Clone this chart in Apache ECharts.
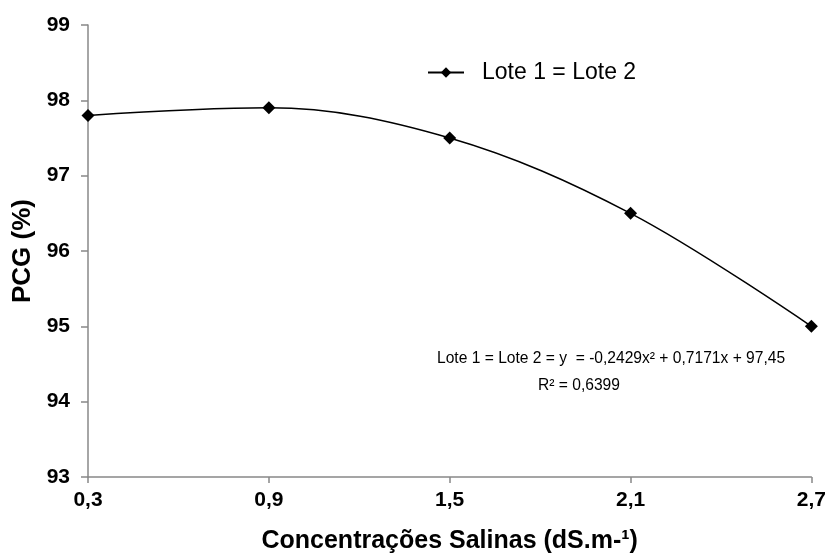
<!DOCTYPE html>
<html>
<head>
<meta charset="utf-8">
<script src="https://cdn.jsdelivr.net/npm/echarts@6/dist/echarts.min.js"></script>
<style>html,body{margin:0;padding:0;background:#fff}#c{width:829px;height:559px}</style>
</head>
<body>
<div id="c"></div>
<script>
const categories = ['0,3', '0,9', '1,5', '2,1', '2,7'];
const pcgValues = [97.8, 97.9, 97.5, 96.5, 95.0];
const yTicks = { min: 93, max: 99, interval: 1 };
const seriesName = 'Lote 1 = Lote 2';
const equationLines = ['Lote 1 = Lote 2 = y  = -0,2429x² + 0,7171x + 97,45', 'R² = 0,6399'];

const FONT = '"Liberation Sans Narrow", "Liberation Sans", Arial, sans-serif';
const chart = echarts.init(document.getElementById('c'), null, { renderer: 'canvas' });
chart.setOption({
  animation: false,
  backgroundColor: '#fff',
  grid: { left: 88, right: 13, top: 25, bottom: 82 },
  legend: {
    data: [seriesName],
    left: 422, top: 56,
    itemWidth: 36, itemHeight: 13, itemGap: 10,
    textStyle: { fontFamily: FONT, fontSize: 23, color: '#000', padding: [0, 0, 0, 13] }
  },
  xAxis: {
    type: 'category',
    data: categories,
    boundaryGap: false,
    name: 'Concentrações Salinas (dS.m-¹)',
    nameLocation: 'middle',
    nameGap: 52,
    nameTextStyle: { fontFamily: FONT, fontSize: 25, fontWeight: 'bold', color: '#000' },
    axisLine: { lineStyle: { color: '#888', width: 1.5 } },
    axisTick: { length: 6, lineStyle: { color: '#888', width: 1.5 } },
    axisLabel: { fontFamily: FONT, fontSize: 21, fontWeight: 'bold', color: '#000', margin: 13 },
    splitLine: { show: false }
  },
  yAxis: {
    type: 'value',
    min: yTicks.min, max: yTicks.max, interval: yTicks.interval,
    name: 'PCG (%)',
    nameLocation: 'middle',
    nameGap: 49,
    nameRotate: 90,
    nameTextStyle: { fontFamily: FONT, fontSize: 26, fontWeight: 'bold', color: '#000' },
    axisLine: { show: true, lineStyle: { color: '#888', width: 1.5 } },
    axisTick: { show: true, length: 7, lineStyle: { color: '#888', width: 1.5 } },
    axisLabel: { fontFamily: FONT, fontSize: 21, fontWeight: 'bold', color: '#000', margin: 18 },
    splitLine: { show: false }
  },
  series: [{
    name: seriesName,
    type: 'line',
    data: pcgValues,
    smooth: 0.35,
    symbol: 'diamond',
    symbolSize: 13,
    itemStyle: { color: '#000' },
    lineStyle: { color: '#000', width: 1.5 }
  }],
  graphic: [
    { type: 'text', left: 437, top: 351, style: { text: equationLines[0], font: '15.6px ' + FONT, fill: '#000' } },
    { type: 'text', left: 538, top: 378, style: { text: equationLines[1], font: '15.6px ' + FONT, fill: '#000' } }
  ]
});
</script>
</body>
</html>
